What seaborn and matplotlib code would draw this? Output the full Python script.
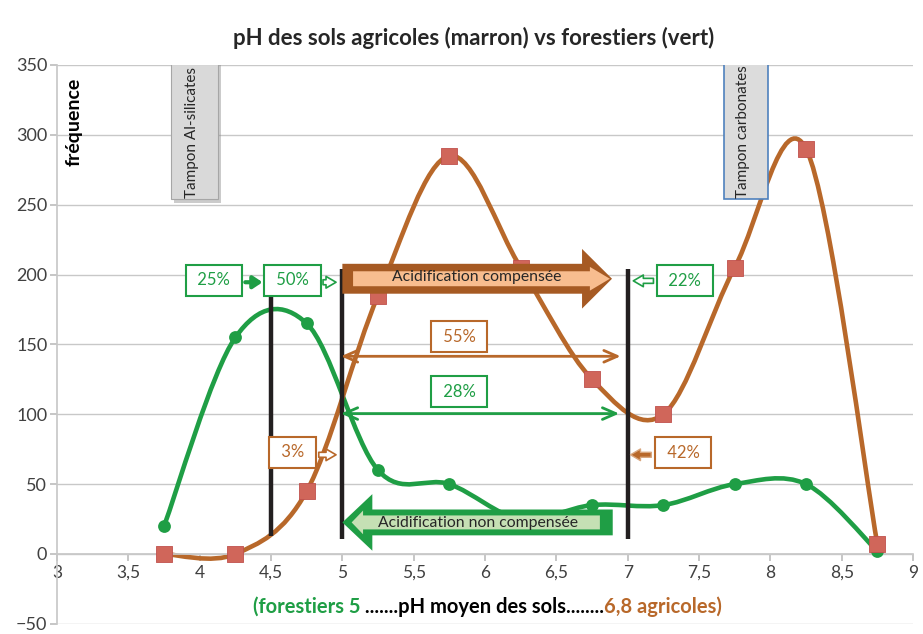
import numpy as np
import pandas as pd
import seaborn as sns
import matplotlib.pyplot as plt
from matplotlib.path import Path
from matplotlib.patches import PathPatch, Rectangle, FancyArrow
from matplotlib.ticker import FuncFormatter

# data
ph = [3.75, 4.25, 4.75, 5.25, 5.75, 6.25, 6.75, 7.25, 7.75, 8.25, 8.75]
forestiers = [20, 155, 165, 60, 50, 25, 35, 35, 50, 50, 2]
agricoles = [0, 0, 45, 185, 285, 205, 125, 100, 205, 290, 7]

GREEN = '#1f9e45'
BROWN = '#b8682a'
SQUARE = '#d0665a'
DARK = '#231f20'

sns.set_theme(style='white')
plt.rcParams['font.family'] = ['Lato', 'DejaVu Sans']

df = pd.DataFrame({'pH': ph, 'forestiers': forestiers, 'agricoles': agricoles})


def smooth_path(x, y):
    # Excel-like smoothed line: Catmull-Rom segments as cubic Beziers
    pts = np.column_stack([x, y]).astype(float)
    n = len(pts)
    verts = [pts[0]]
    codes = [Path.MOVETO]
    for i in range(n - 1):
        p0 = pts[max(i - 1, 0)]
        p1 = pts[i]
        p2 = pts[i + 1]
        p3 = pts[min(i + 2, n - 1)]
        verts += [p1 + (p2 - p0) / 6, p2 - (p3 - p1) / 6, p2]
        codes += [Path.CURVE4] * 3
    return Path(verts, codes)


fig = plt.figure(figsize=(9.23, 6.34), dpi=100)
ax = fig.add_axes([0.0618, 0.016, 0.9274, 0.8815])

# curves + markers
ax.add_patch(PathPatch(smooth_path(df['pH'], df['forestiers']), fc='none',
                       ec=GREEN, lw=3.3, capstyle='round', zorder=2))
ax.add_patch(PathPatch(smooth_path(df['pH'], df['agricoles']), fc='none',
                       ec=BROWN, lw=3.3, capstyle='round', zorder=2.5))
sns.scatterplot(data=df, x='pH', y='forestiers', color=GREEN, marker='o',
                s=85, edgecolor=GREEN, linewidth=0, zorder=3, ax=ax)
sns.scatterplot(data=df, x='pH', y='agricoles', color=SQUARE, marker='s',
                s=120, edgecolor='#c0504d', linewidth=0.6, zorder=4, ax=ax)

# axes
ax.set_xlim(3, 9)
ax.set_ylim(-50, 350)
ax.set_xticks(np.arange(3, 9.01, 0.5))
ax.set_yticks(range(-50, 351, 50))
ax.xaxis.set_major_formatter(FuncFormatter(lambda v, p: f'{v:g}'.replace('.', ',')))
ax.yaxis.grid(True, color='#c8c8c8', lw=1)
ax.set_axisbelow(True)
ax.set_xlabel('')
ax.set_ylabel('')
for s in ['top', 'right']:
    ax.spines[s].set_visible(False)
ax.spines['left'].set_color('#c8c8c8')
ax.spines['bottom'].set_color('#c8c8c8')
ax.spines['bottom'].set_position(('data', 0))
ax.tick_params(axis='x', bottom=True, direction='out', length=5, color='#bfbfbf',
               labelsize=12.5, labelcolor='#404040', pad=3)
ax.tick_params(axis='y', left=True, direction='out', length=5, color='#bfbfbf',
               labelsize=13, labelcolor='#404040', pad=2)

# buffer boxes
ax.add_patch(Rectangle((3.82, 251), 0.33, 99, fc='#8c8c8c', alpha=0.45, ec='none', zorder=4.8))
ax.add_patch(Rectangle((3.80, 254), 0.33, 97, fc='#d9d9d9', ec='#a6a6a6', lw=0.8, zorder=5))
ax.text(3.945, 255, 'Tampon Al-silicates', rotation=90, ha='center', va='bottom',
        fontsize=11, color='#262626', zorder=6)
ax.add_patch(Rectangle((7.675, 254), 0.31, 97, fc='#dcdcdc', ec='#4f81bd', lw=1.2, zorder=5))
ax.text(7.81, 255, 'Tampon carbonates', rotation=90, ha='center', va='bottom',
        fontsize=11, color='#262626', zorder=6)

ax.text(3.12, 309, 'fréquence', rotation=90, ha='center', va='center',
        fontsize=14, fontweight='bold', color='black')

# vertical limits
ax.vlines([4.5, 5, 7], [13, 11, 11], [205, 204, 204], color=DARK, lw=3.2, zorder=5)

# big arrows
ax.add_patch(FancyArrow(5.0, 197, 1.89, 0, width=21.4, head_width=42.7, head_length=0.21,
                        length_includes_head=True, fc='#a65a23', ec='none', zorder=6))
ax.add_patch(FancyArrow(5.075, 197, 1.8, 0, width=10.7, head_width=17, head_length=0.14,
                        length_includes_head=True, fc='#f8bd8f', ec='none', zorder=6.5))
ax.text(5.94, 198, 'Acidification compensée', ha='center', va='center',
        fontsize=11.3, color='#262626', zorder=7)

ax.add_patch(FancyArrow(6.895, 22.6, -1.895, 0, width=18.5, head_width=40.5, head_length=0.21,
                        length_includes_head=True, fc=GREEN, ec='none', zorder=6))
ax.add_patch(FancyArrow(6.805, 22.6, -1.74, 0, width=10, head_width=17, head_length=0.08,
                        length_includes_head=True, fc='#c5e0b4', ec='none', zorder=6.5))
ax.text(5.95, 22.5, 'Acidification non compensée', ha='center', va='center',
        fontsize=11.3, color='#262626', zorder=7)

# percentage boxes
boxes = [(4.10, 196, '25%', GREEN), (4.65, 196, '50%', GREEN), (7.40, 195.5, '22%', GREEN),
         (5.82, 155.5, '55%', BROWN), (5.82, 116, '28%', GREEN),
         (4.65, 73, '3%', BROWN), (7.39, 72.5, '42%', BROWN)]
for x, y, txt, c in boxes:
    ax.text(x, y, f' {txt} ', ha='center', va='center', fontsize=12, color=c, zorder=8,
            bbox=dict(boxstyle='square,pad=0.45', fc='white', ec=c, lw=1.5))

# small arrows
ax.annotate('', xy=(4.46, 194.5), xytext=(4.30, 194.5),
            arrowprops=dict(arrowstyle='-|>,head_width=0.3,head_length=0.45', color=GREEN, lw=3), zorder=8)
hollow = 'simple,head_width=0.7,head_length=0.6,tail_width=0.3'
ax.annotate('', xy=(4.975, 194.5), xytext=(4.845, 194.5),
            arrowprops=dict(arrowstyle=hollow, fc='white', ec=GREEN, lw=1.2), zorder=8)
ax.annotate('', xy=(7.02, 195.5), xytext=(7.2, 195.5),
            arrowprops=dict(arrowstyle=hollow, fc='white', ec=GREEN, lw=1.2), zorder=8)
ax.annotate('', xy=(4.975, 71), xytext=(4.815, 71),
            arrowprops=dict(arrowstyle=hollow, fc='white', ec=BROWN, lw=1.2), zorder=8)
ax.annotate('', xy=(7.0, 71), xytext=(7.185, 71),
            arrowprops=dict(arrowstyle=hollow, fc=BROWN, ec='#d9a77f', lw=1.0), zorder=8)

# range arrows
ax.annotate('', xy=(4.97, 141.5), xytext=(6.97, 141.5),
            arrowprops=dict(arrowstyle='<->,head_width=0.35,head_length=0.8', color=BROWN, lw=2), zorder=7)
ax.annotate('', xy=(4.97, 100.5), xytext=(6.96, 100.5),
            arrowprops=dict(arrowstyle='<->,head_width=0.35,head_length=0.8', color=GREEN, lw=2), zorder=7)

# title and coloured x label
fig.text(0.513, 0.94, 'pH des sols agricoles (marron) vs forestiers (vert)', ha='center',
         va='center', fontsize=16, fontweight='bold', color='#262626')
t1 = fig.text(0.274, 0.027, '(forestiers 5', color=GREEN, fontweight='bold', fontsize=14.5,
              va='bottom', ha='left')
t2 = ax.annotate(' .......pH moyen des sols........', xy=(1, 0), xycoords=t1, va='bottom',
                 ha='left', color='black', fontweight='bold', fontsize=14.5, annotation_clip=False)
ax.annotate('6,8 agricoles)', xy=(1, 0), xycoords=t2, va='bottom', ha='left',
            color=BROWN, fontweight='bold', fontsize=14.5, annotation_clip=False)

fig.savefig('out.png', dpi=100)
